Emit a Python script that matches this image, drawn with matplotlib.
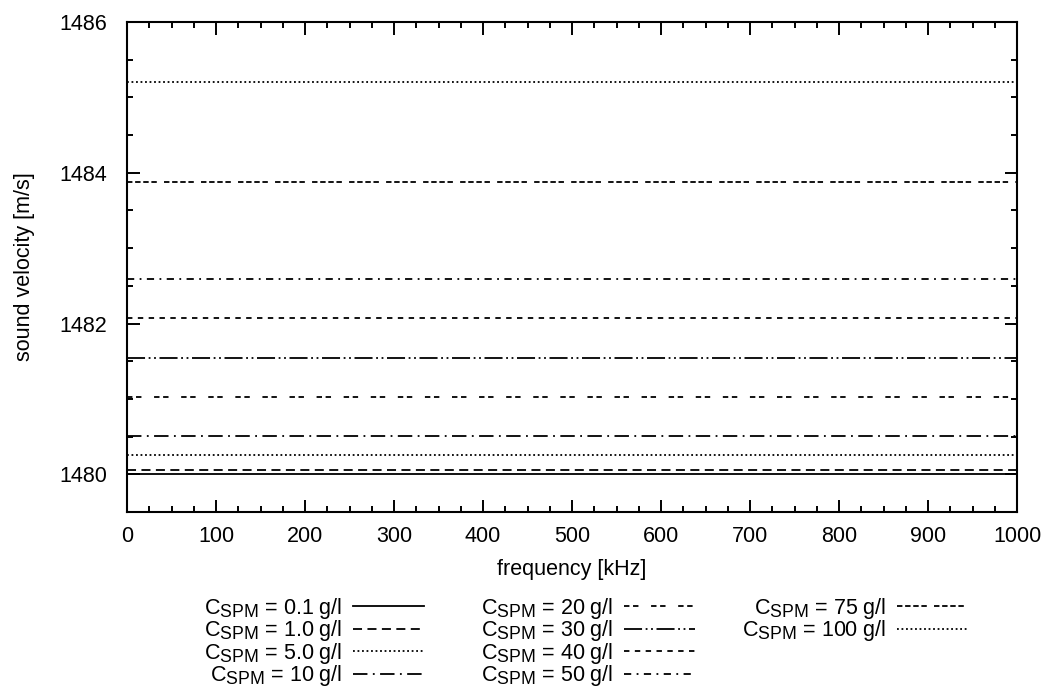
import matplotlib.pyplot as plt
import matplotlib._mathtext as mt
import numpy as np
from matplotlib.ticker import MultipleLocator

plt.rcParams['font.family'] = ['Liberation Sans', 'DejaVu Sans']
plt.rcParams['mathtext.fontset'] = 'custom'
plt.rcParams['mathtext.rm'] = 'Liberation Sans'
# índice "SPM" um pouco maior, como no gnuplot
mt.SHRINK_FACTOR = 0.82

# concentração de sedimentos e velocidade do som (constante na frequência)
freq = [0, 1000]
conc = ["0.1", "1.0", "5.0", "10", "20", "30", "40", "50", "75", "100"]
velocidade = [1480.0, 1480.05, 1480.26, 1480.51, 1481.02, 1481.54, 1482.07, 1482.59, 1483.88, 1485.21]

estilos = [
    '-',
    (0, (5, 3)),
    (0, (1, 1.5)),
    (0, (8, 3, 1, 3)),
    (0, (3, 2, 3, 7)),
    (0, (10, 2, 1, 2, 1, 2)),
    (0, (3, 3)),
    (0, (4, 3, 1, 3)),
    (0, (3, 1.5, 3, 1.5, 3, 1.5, 3, 4)),
    (0, (1, 1.5)),
]

fs = 15.5

fig = plt.figure(figsize=(10.5, 6.89), dpi=100)
ax = fig.add_axes([0.121, 0.257, 0.8476, 0.711])

handles = []
for c, v, ls in zip(conc, velocidade, estilos):
    h, = ax.plot(freq, [v, v], color='black', linestyle=ls, linewidth=1.3,
                 label=r'$\mathregular{C_{SPM}}$ = ' + c + ' g/l')
    handles.append(h)

ax.set_xlim(0, 1000)
ax.set_ylim(1479.5, 1486)
ax.xaxis.set_major_locator(MultipleLocator(100))
ax.xaxis.set_minor_locator(MultipleLocator(25))
ax.yaxis.set_major_locator(MultipleLocator(2))
ax.yaxis.set_minor_locator(MultipleLocator(0.5))
ax.tick_params(which='both', direction='in', top=True, right=True, labelsize=fs, width=1.4)
ax.tick_params(which='major', length=9)
ax.tick_params(which='minor', length=4.5)
ax.tick_params(axis='x', which='major', pad=10)
ax.tick_params(axis='y', which='major', pad=14)
for s in ax.spines.values():
    s.set_linewidth(1.5)

ax.set_xlabel('frequency [kHz]', fontsize=fs, labelpad=9)
ax.set_ylabel('sound velocity [m/s]', fontsize=fs, labelpad=18)

# uma legenda por coluna (4 - 4 - 2), alinhada à direita como no gnuplot
colunas = [handles[0:4], handles[4:8], handles[8:10]]
direita = [424, 695, 968]
for hs, xr in zip(colunas, direita):
    fig.legend(hs, [h.get_label() for h in hs], loc='upper right',
               bbox_to_anchor=(xr / 1050, 1 - 596 / 689),
               markerfirst=False, frameon=False, fontsize=fs,
               handlelength=3.3, handletextpad=0.5, labelspacing=-0.12,
               borderpad=0, borderaxespad=0)

fig.savefig('out.png', dpi=100)
